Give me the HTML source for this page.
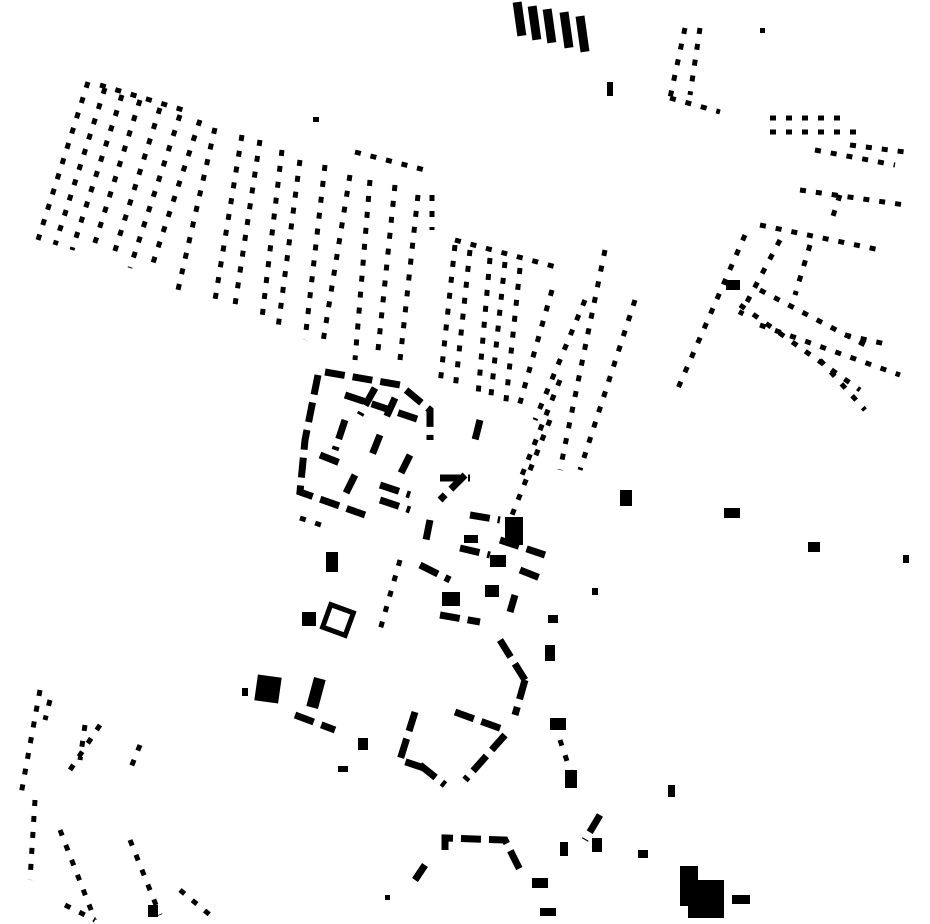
<!DOCTYPE html>
<html><head><meta charset="utf-8"><style>html,body{margin:0;padding:0;background:#fff}svg{display:block}</style></head>
<body>
<svg width="930" height="924" viewBox="0 0 930 924" xmlns="http://www.w3.org/2000/svg">
<g stroke="#000" fill="none" stroke-width="5" stroke-dasharray="6 10">
<line x1="88" y1="82" x2="38" y2="240"/>
<line x1="105" y1="88" x2="55" y2="245"/>
<line x1="122" y1="95" x2="72" y2="250"/>
<line x1="140" y1="100" x2="92" y2="252"/>
<line x1="160" y1="108" x2="112" y2="260"/>
<line x1="180" y1="115" x2="130" y2="268"/>
<line x1="200" y1="120" x2="150" y2="272"/>
<line x1="215" y1="128" x2="178" y2="290"/>
<line x1="242" y1="135" x2="215" y2="300"/>
<line x1="260" y1="140" x2="235" y2="305"/>
<line x1="282" y1="150" x2="262" y2="318"/>
<line x1="300" y1="160" x2="278" y2="328"/>
<line x1="325" y1="165" x2="305" y2="340"/>
<line x1="350" y1="175" x2="322" y2="348"/>
<line x1="370" y1="180" x2="355" y2="360"/>
<line x1="395" y1="185" x2="377" y2="360"/>
<line x1="418" y1="195" x2="400" y2="360"/>
<line x1="432" y1="195" x2="432" y2="230"/>
<line x1="100" y1="85" x2="190" y2="112"/>
<line x1="355" y1="152" x2="425" y2="170"/>
<line x1="455" y1="245" x2="440" y2="385"/>
<line x1="470" y1="250" x2="455" y2="390"/>
<line x1="490" y1="258" x2="478" y2="395"/>
<line x1="505" y1="262" x2="490" y2="405"/>
<line x1="520" y1="268" x2="505" y2="410"/>
<line x1="552" y1="290" x2="518" y2="410"/>
<line x1="455" y1="240" x2="560" y2="268"/>
<line x1="605" y1="250" x2="560" y2="470"/>
<line x1="635" y1="300" x2="580" y2="470"/>
<line x1="585" y1="300" x2="535" y2="420"/>
<line x1="560" y1="380" x2="520" y2="480"/>
<line x1="550" y1="420" x2="510" y2="520"/>
<line x1="685" y1="28" x2="670" y2="98"/>
<line x1="700" y1="28" x2="690" y2="95"/>
<line x1="670" y1="98" x2="720" y2="112"/>
<line x1="770" y1="132" x2="865" y2="132"/>
<line x1="770" y1="118" x2="850" y2="118"/>
<line x1="815" y1="150" x2="895" y2="165"/>
<line x1="850" y1="145" x2="905" y2="152"/>
<line x1="800" y1="190" x2="905" y2="205"/>
<line x1="840" y1="195" x2="830" y2="225"/>
<line x1="760" y1="225" x2="880" y2="250"/>
<line x1="745" y1="235" x2="675" y2="395"/>
<line x1="780" y1="240" x2="740" y2="315"/>
<line x1="810" y1="245" x2="795" y2="295"/>
<line x1="760" y1="290" x2="865" y2="345"/>
<line x1="740" y1="305" x2="860" y2="390"/>
<line x1="760" y1="325" x2="900" y2="375"/>
<line x1="820" y1="360" x2="865" y2="410"/>
<line x1="845" y1="335" x2="890" y2="345"/>
<line x1="40" y1="690" x2="20" y2="800"/>
<line x1="100" y1="725" x2="70" y2="770"/>
<line x1="140" y1="745" x2="130" y2="770"/>
<line x1="35" y1="800" x2="30" y2="880"/>
<line x1="60" y1="830" x2="95" y2="920"/>
<line x1="130" y1="840" x2="160" y2="915"/>
<line x1="180" y1="890" x2="210" y2="915"/>
<line x1="65" y1="905" x2="95" y2="920"/>
<line x1="400" y1="560" x2="380" y2="630"/>
<line x1="560" y1="740" x2="575" y2="785"/>
<line x1="300" y1="518" x2="330" y2="528"/>
<line x1="50" y1="700" x2="45" y2="720"/>
<line x1="85" y1="725" x2="80" y2="760"/>
</g>
<g stroke="#000" fill="none" stroke-width="7" stroke-dasharray="20 8">
<polyline points="318,375 305,440 300,492 365,515"/>
<polyline points="325,372 400,385 430,410 430,440"/>
<line x1="345" y1="395" x2="420" y2="420"/>
<line x1="375" y1="388" x2="360" y2="415"/>
<line x1="395" y1="398" x2="385" y2="420"/>
<line x1="345" y1="420" x2="335" y2="450"/>
<line x1="380" y1="435" x2="370" y2="460"/>
<line x1="410" y1="455" x2="400" y2="475"/>
<line x1="320" y1="455" x2="345" y2="465"/>
<line x1="355" y1="475" x2="345" y2="495"/>
<line x1="380" y1="500" x2="410" y2="510"/>
<line x1="480" y1="420" x2="475" y2="440"/>
<line x1="465" y1="475" x2="440" y2="500"/>
<line x1="470" y1="515" x2="500" y2="520"/>
<line x1="500" y1="540" x2="545" y2="555"/>
<line x1="420" y1="565" x2="450" y2="580"/>
<line x1="520" y1="570" x2="545" y2="580"/>
<line x1="440" y1="615" x2="480" y2="622"/>
<line x1="500" y1="640" x2="525" y2="680"/>
<line x1="525" y1="680" x2="515" y2="715"/>
<polyline points="415,712 400,760 430,770"/>
<line x1="455" y1="712" x2="505" y2="730"/>
<line x1="505" y1="735" x2="465" y2="780"/>
<line x1="420" y1="765" x2="445" y2="785"/>
<line x1="295" y1="715" x2="335" y2="730"/>
<polyline points="445,850 445,838 505,840 520,870"/>
<line x1="425" y1="865" x2="415" y2="880"/>
<line x1="600" y1="815" x2="585" y2="840"/>
<line x1="440" y1="478" x2="470" y2="478"/>
<line x1="460" y1="548" x2="490" y2="555"/>
<line x1="430" y1="520" x2="425" y2="545"/>
<line x1="515" y1="595" x2="510" y2="612"/>
<line x1="380" y1="485" x2="410" y2="495"/>
</g>
<g fill="#000">
<rect x="515" y="2" width="9" height="34" transform="rotate(-8 519 19)"/>
<rect x="530" y="6" width="9" height="34" transform="rotate(-8 534 23)"/>
<rect x="545" y="9" width="9" height="34" transform="rotate(-8 549 26)"/>
<rect x="562" y="12" width="9" height="36" transform="rotate(-8 566 30)"/>
<rect x="578" y="16" width="9" height="36" transform="rotate(-8 582 34)"/>
<rect x="607" y="82" width="6" height="14"/>
<rect x="256" y="676" width="24" height="26" transform="rotate(8 268 689)"/>
<rect x="310" y="678" width="12" height="30" transform="rotate(15 316 693)"/>
<rect x="242" y="688" width="6" height="8"/>
<rect x="358" y="738" width="10" height="12"/>
<rect x="338" y="766" width="10" height="6"/>
<rect x="302" y="612" width="14" height="14"/>
<rect x="326" y="608" width="24" height="24" fill="none" stroke="#000" stroke-width="5" transform="rotate(20 338 620)"/>
<rect x="326" y="552" width="12" height="20"/>
<rect x="505" y="517" width="18" height="28"/>
<rect x="490" y="555" width="16" height="12"/>
<rect x="442" y="592" width="18" height="14"/>
<rect x="485" y="585" width="14" height="12"/>
<rect x="545" y="645" width="10" height="16"/>
<rect x="550" y="718" width="16" height="12"/>
<rect x="565" y="770" width="12" height="18"/>
<rect x="592" y="838" width="10" height="14"/>
<rect x="560" y="842" width="8" height="14"/>
<rect x="680" y="866" width="18" height="40"/>
<rect x="688" y="880" width="36" height="38"/>
<rect x="732" y="895" width="18" height="9"/>
<rect x="540" y="908" width="16" height="8"/>
<rect x="532" y="878" width="16" height="10"/>
<rect x="668" y="785" width="7" height="12"/>
<rect x="638" y="850" width="10" height="8"/>
<rect x="620" y="490" width="12" height="16"/>
<rect x="724" y="508" width="16" height="10"/>
<rect x="808" y="542" width="12" height="10"/>
<rect x="903" y="555" width="6" height="8"/>
<rect x="592" y="588" width="6" height="7"/>
<rect x="726" y="280" width="14" height="10"/>
<rect x="385" y="895" width="5" height="5"/>
<rect x="148" y="905" width="10" height="12"/>
<rect x="760" y="28" width="5" height="5"/>
<rect x="313" y="117" width="6" height="5"/>
<rect x="464" y="535" width="14" height="8"/>
<rect x="548" y="615" width="10" height="8"/>
</g>
</svg>
</body></html>
